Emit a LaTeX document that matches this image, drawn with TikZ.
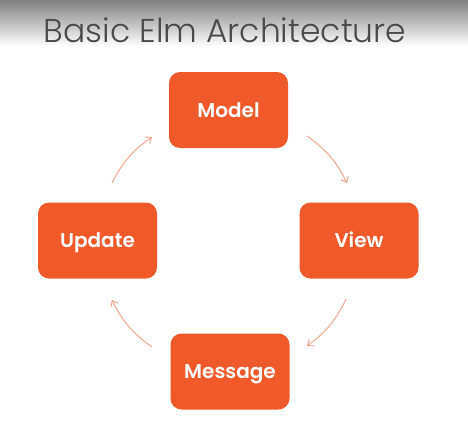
\documentclass[tikz,border=0pt]{standalone}
\usepackage{fontspec}
\setmainfont{Poppins}
\newfontfamily\titlefont{Poppins Light}
\newfontfamily\boxfont{Poppins SemiBold}
\usetikzlibrary{arrows.meta}
\definecolor{elmorange}{HTML}{F05A2B}
\definecolor{arrowsalmon}{HTML}{F3A086}
\definecolor{titlegray}{HTML}{4A4A4A}
\tikzset{
  elmbox/.style={fill=elmorange, rounded corners=11pt, minimum width=119pt, minimum height=76pt, inner sep=0pt, text height=14pt, text depth=0pt, text=white, font=\boxfont\fontsize{20}{22}\selectfont},
  cyclearrow/.style={draw=arrowsalmon, line width=0.9pt, -{Straight Barb[length=5pt,width=8pt]}}
}
\begin{document}
\begin{tikzpicture}[x=1pt,y=-1pt]
\useasboundingbox (0,0) rectangle (468,434);
\fill[white] (0,0) rectangle (468,434);
\shade[top color=black!50, bottom color=white] (0,0) rectangle (468,46);
\node[font=\titlefont\fontsize{33}{36}\selectfont, text=titlegray, anchor=base] (title) at (225,42) {Basic Elm Architecture};
\node[elmbox] (model) at (228.5,110) {Model};
\node[elmbox] (view) at (359,240.5) {View};
\node[elmbox] (update) at (97.5,240.5) {Update};
\node[elmbox] (message) at (230,371.5) {Message};
\coordinate (a1s) at (307,136);
\coordinate (a1e) at (347,183);
\coordinate (a2s) at (346,299);
\coordinate (a2e) at (307,346);
\coordinate (a3s) at (152,347);
\coordinate (a3e) at (112,300);
\coordinate (a4s) at (112,183);
\coordinate (a4e) at (152,137);
\draw[cyclearrow] (a1s) to[bend left=14] (a1e);
\draw[cyclearrow] (a2s) to[bend left=14] (a2e);
\draw[cyclearrow] (a3s) to[bend left=14] (a3e);
\draw[cyclearrow] (a4s) to[bend left=14] (a4e);
\end{tikzpicture}
\end{document}
